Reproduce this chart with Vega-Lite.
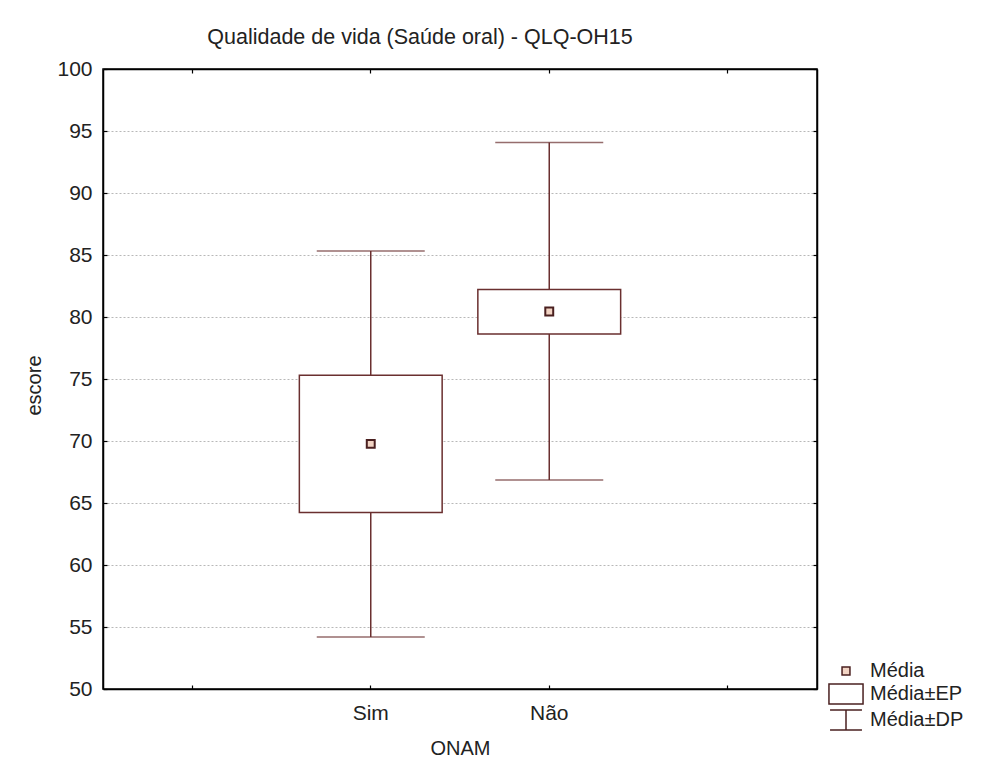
{
  "$schema": "https://vega.github.io/schema/vega-lite/v6.json",
  "autosize": "none",
  "width": 714,
  "height": 620,
  "padding": {"left": 103, "top": 69, "right": 169, "bottom": 73},
  "background": "white",
  "title": {
    "text": "Qualidade de vida (Saúde oral) - QLQ-OH15",
    "font": "Liberation Sans",
    "fontSize": 21.5,
    "fontWeight": "normal",
    "color": "#222222",
    "anchor": "middle",
    "dx": -40,
    "offset": 10
  },
  "config": {
    "view": {"stroke": "black", "strokeWidth": 1.5},
    "font": "Liberation Sans",
    "axis": {
      "domainColor": "black",
      "domainWidth": 1.5,
      "tickColor": "black",
      "tickWidth": 1.2,
      "tickSize": -4,
      "labelFont": "Liberation Sans",
      "labelFontSize": 21,
      "labelColor": "#222222",
      "titleFont": "Liberation Sans",
      "titleFontSize": 20,
      "titleFontWeight": "normal",
      "titleColor": "#222222"
    }
  },
  "data": {
    "values": [
      {"g": "Sim", "mean": 69.77, "seLo": 64.24, "seHi": 75.30, "sdLo": 54.20, "sdHi": 85.32, "leg": "Média"},
      {"g": "Não", "mean": 80.44, "seLo": 78.63, "seHi": 82.22, "sdLo": 66.86, "sdHi": 94.08, "leg": "Média"}
    ]
  },
  "resolve": {"axis": {"x": "independent", "y": "independent"}},
  "layer": [
    {
      "mark": {"type": "rule", "color": "#6a2f2f", "strokeWidth": 1.5},
      "encoding": {
        "x": {
          "field": "g", "type": "nominal",
          "scale": {"domain": [" ", "Sim", "Não", "  "], "paddingInner": 0, "paddingOuter": 0},
          "axis": {"orient": "bottom", "title": "ONAM", "labelAngle": 0, "labelPadding": 17, "titlePadding": 15, "bandPosition": 0.5, "grid": false}
        },
        "y": {
          "field": "sdLo", "type": "quantitative",
          "scale": {"domain": [50, 100], "nice": false, "zero": false},
          "axis": {"orient": "left", "title": "escore", "titleY": 316, "values": [50, 55, 60, 65, 70, 75, 80, 85, 90, 95, 100], "labelPadding": 15, "titlePadding": 12, "grid": true, "gridColor": "#b8b8b8", "gridDash": [2, 2], "gridWidth": 1}
        },
        "y2": {"field": "sdHi"}
      }
    },
    {
      "mark": {"type": "tick", "color": "#6a2f2f", "size": 108, "thickness": 1.5},
      "encoding": {
        "x": {"field": "g", "type": "nominal",
          "axis": {"orient": "top", "title": null, "labels": false, "bandPosition": 0.5, "grid": false}},
        "y": {"field": "sdLo", "type": "quantitative",
          "axis": {"orient": "right", "title": null, "labels": false, "values": [50, 55, 60, 65, 70, 75, 80, 85, 90, 95, 100], "grid": false}}
      }
    },
    {
      "mark": {"type": "tick", "color": "#6a2f2f", "size": 108, "thickness": 1.5},
      "encoding": {
        "x": {"field": "g", "type": "nominal", "axis": null},
        "y": {"field": "sdHi", "type": "quantitative", "axis": null}
      }
    },
    {
      "mark": {"type": "bar", "fill": "white", "stroke": "#6a2f2f", "strokeWidth": 1.5, "width": {"band": 0.8}},
      "encoding": {
        "x": {"field": "g", "type": "nominal", "axis": null},
        "y": {"field": "seLo", "type": "quantitative", "axis": null},
        "y2": {"field": "seHi"}
      }
    },
    {
      "mark": {"type": "point", "filled": true, "size": 576, "stroke": "#4a2020", "strokeWidth": 2, "opacity": 1},
      "encoding": {
        "x": {"field": "g", "type": "nominal", "axis": null},
        "y": {"field": "mean", "type": "quantitative", "axis": null},
        "shape": {
          "field": "leg", "type": "nominal",
          "scale": {
            "domain": ["Média", "Média±EP", "Média±DP"],
            "range": [
              "M-0.33,-0.33H0.33V0.33H-0.33Z",
              "M-1.42,-0.83H1.42V0.83H-1.42Z",
              "M-1.33,-0.83H1.33M0,-0.83V0.83M-1.33,0.83H1.33"
            ]
          },
          "legend": {
            "title": null, "orient": "none", "legendX": 730, "legendY": 589,
            "symbolSize": 576, "rowPadding": 0, "labelOffset": 11,
            "labelFontSize": 20, "labelColor": "#222222", "labelFont": "Liberation Sans",
            "encode": {"symbols": {"update": {"stroke": {"value": "#5a2626"}, "strokeWidth": {"value": 1.5}, "opacity": {"value": 1}}}}
          }
        },
        "fill": {
          "field": "leg", "type": "nominal",
          "scale": {"domain": ["Média", "Média±EP", "Média±DP"], "range": ["#f2d4c4", "#ffffff", "#ffffff"]},
          "legend": {
            "title": null, "orient": "none", "legendX": 730, "legendY": 589,
            "symbolSize": 576, "rowPadding": 0, "labelOffset": 11,
            "labelFontSize": 20, "labelColor": "#222222", "labelFont": "Liberation Sans",
            "encode": {"symbols": {"update": {"stroke": {"value": "#5a2626"}, "strokeWidth": {"value": 1.5}, "opacity": {"value": 1}}}}
          }
        }
      }
    }
  ]
}
